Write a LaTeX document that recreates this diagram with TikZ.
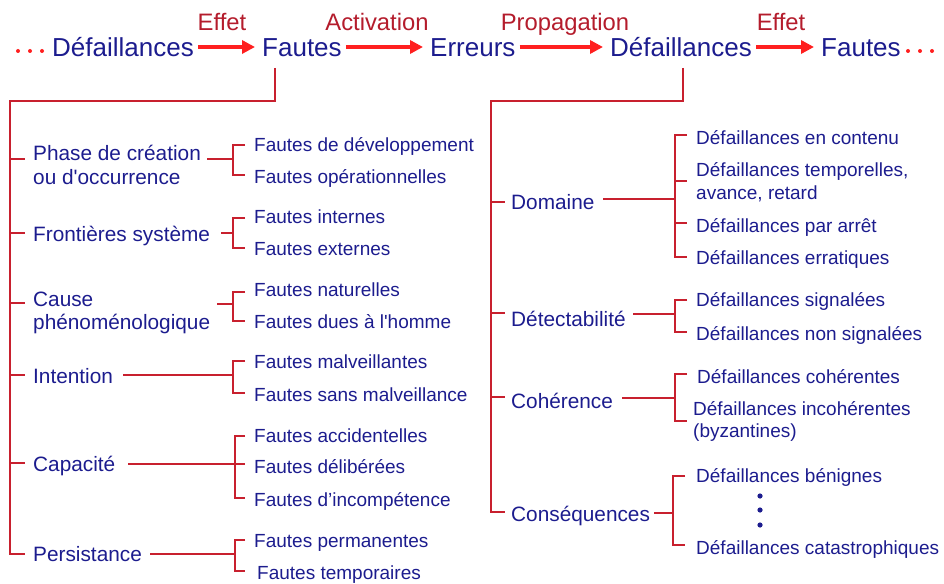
\documentclass[tikz,border=0pt]{standalone}
\usepackage{fontspec}
\setmainfont{Liberation Sans}
\newfontfamily\straightfont{Liberation Sans}
\usetikzlibrary{arrows.meta}
\definecolor{navy}{HTML}{1C1C8E}
\definecolor{treered}{HTML}{C8202E}
\definecolor{arrred}{HTML}{FF1F1F}
\definecolor{lblred}{HTML}{B41C2C}
\begin{document}
\begin{tikzpicture}[x=1pt,y=-1pt,
 top/.style={inner sep=0pt, text height=23.4pt, text depth=4.8pt, font=\fontsize{26}{30}\selectfont, text=navy, anchor=west},
 lbl/.style={inner sep=0pt, text height=21.4pt, text depth=4.4pt, font=\fontsize{23.8}{26}\selectfont, text=lblred},
 cat/.style={inner sep=0pt, text height=18.7pt, text depth=3.8pt, font=\fontsize{20.8}{24}\selectfont, text=navy, anchor=west},
 sub/.style={inner sep=0pt, text height=17pt, text depth=3.4pt, font=\fontsize{19}{22}\selectfont, text=navy, anchor=west},
 tree/.style={draw=treered, line width=1.6pt},
 flow/.style={draw=arrred, line width=3.6pt, -{Triangle[length=13pt,width=13pt]}, shorten <=4pt, shorten >=7pt},
 dotr/.style={fill=arrred, draw=none},
 dotb/.style={fill=navy, draw=none}]
\useasboundingbox (0,0) rectangle (944,583);

% top row
\node[top] (d1) at (52,47) {Défaillances};
\node[top] (f1) at (262,47) {Fautes};
\node[top] (er) at (430,47) {Erreurs};
\node[top] (d2) at (610,47) {Défaillances};
\node[top] (f2) at (821,47) {Fautes};
\draw[flow] (d1.east) -- (f1.west);
\draw[flow] (f1.east) -- (er.west);
\draw[flow] (er.east) -- (d2.west);
\draw[flow] (d2.east) -- (f2.west);
\node[lbl] (l1) at (222,22) {Effet};
\node[lbl] (l2) at (377,22) {Activation};
\node[lbl] (l3) at (565,22) {Propagation};
\node[lbl] (l4) at (781,22) {Effet};
\foreach \x in {18,30,42,908,920,932} \fill[dotr] (\x,51) circle (2pt);

% left tree
\coordinate (lt) at (275,68);
\draw[tree] (lt) -- (275,101) -- (10,101) -- (10,554) -- (25,554);
\foreach \y in {159,233,303,375,463} \draw[tree] (10,\y) -- (25,\y);

\node[cat] (phase) at (33,153) {Phase de création};
\node[cat] (phase2) at (33,177) {\straightfont ou d'occurrence};
\node[cat] (front) at (33,234) {Frontières système};
\node[cat] (cause) at (33,299) {Cause};
\node[cat] (cause2) at (33,322) {phénoménologique};
\node[cat] (inten) at (33,376) {Intention};
\node[cat] (capa) at (33,464) {Capacité};
\node[cat] (pers) at (33,554) {Persistance};

\node[sub] (s1) at (254,145) {Fautes de développement};
\node[sub] (s2) at (254,177) {Fautes opérationnelles};
\node[sub] (s3) at (254,217) {Fautes internes};
\node[sub] (s4) at (254,249) {Fautes externes};
\node[sub] (s5) at (254,290) {Fautes naturelles};
\node[sub] (s6) at (254,322) {\straightfont Fautes dues à l'homme};
\node[sub] (s7) at (254,362) {Fautes malveillantes};
\node[sub] (s8) at (254,395) {Fautes sans malveillance};
\node[sub] (s9) at (254,436) {Fautes accidentelles};
\node[sub] (s10) at (254,467) {Fautes délibérées};
\node[sub] (s11) at (254,500) {Fautes d’incompétence};
\node[sub] (s12) at (254,541) {Fautes permanentes};
\node[sub] (s13) at (257,573) {Fautes temporaires};

\draw[tree] (207,159) -- (233,159);
\draw[tree] (245,145) -- (233,145) -- (233,175) -- (245,175);
\draw[tree] (221,233) -- (233,233);
\draw[tree] (245,218) -- (233,218) -- (233,248) -- (245,248);
\draw[tree] (217,304) -- (233,304);
\draw[tree] (245,292) -- (233,292) -- (233,321) -- (245,321);
\draw[tree] (123,375) -- (233,375);
\draw[tree] (245,361) -- (233,361) -- (233,393) -- (245,393);
\draw[tree] (128,464) -- (245,464);
\draw[tree] (245,436) -- (235,436) -- (235,498) -- (245,498);
\draw[tree] (150,554) -- (235,554);
\draw[tree] (245,540) -- (235,540) -- (235,571) -- (245,571);

% right tree
\coordinate (rt) at (683,68);
\draw[tree] (rt) -- (683,101) -- (491,101) -- (491,512) -- (505,512);
\foreach \y in {202,313,397} \draw[tree] (491,\y) -- (505,\y);

\node[cat] (dom) at (511,202) {Domaine};
\node[cat] (det) at (511,319) {Détectabilité};
\node[cat] (coh) at (511,401) {Cohérence};
\node[cat] (cons) at (511,514) {Conséquences};

\node[sub] (r1) at (696,138) {Défaillances en contenu};
\node[sub] (r2) at (696,170) {Défaillances temporelles,};
\node[sub] (r2b) at (696,193) {avance, retard};
\node[sub] (r3) at (696,226) {Défaillances par arrêt};
\node[sub] (r4) at (696,258) {Défaillances erratiques};
\node[sub] (r5) at (696,300) {Défaillances signalées};
\node[sub] (r6) at (696,334) {Défaillances non signalées};
\node[sub] (r7) at (697,377) {Défaillances cohérentes};
\node[sub] (r8) at (693,409) {Défaillances incohérentes};
\node[sub] (r8b) at (693,431) {(byzantines)};
\node[sub] (r9) at (696,476) {Défaillances bénignes};
\node[sub] (r10) at (696,548) {Défaillances catastrophiques};
\foreach \y in {496,510,525} \fill[dotb] (760,\y) circle (2.6pt);

\draw[tree] (603,199) -- (675,199);
\draw[tree] (687,135) -- (675,135) -- (675,257) -- (687,257);
\draw[tree] (675,181) -- (687,181);
\draw[tree] (675,223) -- (687,223);
\draw[tree] (633,314) -- (675,314);
\draw[tree] (687,300) -- (675,300) -- (675,332) -- (687,332);
\draw[tree] (622,398) -- (675,398);
\draw[tree] (687,374) -- (675,374) -- (675,421) -- (687,421);
\draw[tree] (654,513) -- (673,513);
\draw[tree] (685,476) -- (673,476) -- (673,545) -- (685,545);
\end{tikzpicture}
\end{document}
